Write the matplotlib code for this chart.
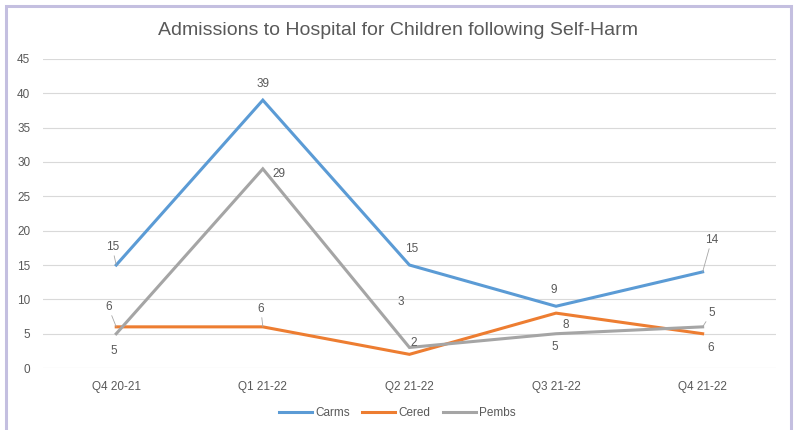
import matplotlib
matplotlib.use('Agg')
import matplotlib.pyplot as plt
from matplotlib.patches import Rectangle

plt.rcParams['font.family'] = ['Liberation Sans', 'DejaVu Sans']

quarters = ['Q4 20-21', 'Q1 21-22', 'Q2 21-22', 'Q3 21-22', 'Q4 21-22']
carms = [15, 39, 15, 9, 14]
cered = [6, 6, 2, 8, 5]
pembs = [5, 29, 3, 5, 6]

# data label text as shown on the chart (some labels swapped in the original)
carms_lbl = ['15', '39', '15', '9', '14']
cered_lbl = ['6', '6', '2', '8', '6']
pembs_lbl = ['5', '29', '3', '5', '5']

# label offsets in pixels and whether a leader line is drawn
carms_off = [(-4, 18, True), (0, 16, False), (2, 16, False), (-2, 16, False), (9, 32, True)]
cered_off = [(-8, 20, True), (-2, 18, True), (4, 11, False), (10, -12, False), (8, -14, False)]
pembs_off = [(-2, -17, False), (16, -5, False), (-9, 45, False), (-1, -13, False), (9, 14, True)]

txt = '#595959'
grid = '#D9D9D9'

fig = plt.figure(figsize=(7.95, 4.30), dpi=100)
ax = fig.add_axes([0.054, 0.144, 0.922, 0.719])

x = range(len(quarters))
series = [('Carms', carms, carms_lbl, carms_off, '#5B9BD5'),
          ('Cered', cered, cered_lbl, cered_off, '#ED7D31'),
          ('Pembs', pembs, pembs_lbl, pembs_off, '#A5A5A5')]

for name, vals, lbls, offs, col in series:
    ax.plot(x, vals, color=col, lw=2.2, label=name, solid_joinstyle='miter')

for name, vals, lbls, offs, col in series:
    for i, v in enumerate(vals):
        dx, dy, lead = offs[i]
        ap = dict(arrowstyle='-', color='#A6A6A6', lw=0.6, shrinkA=0, shrinkB=0) if lead else None
        ax.annotate(lbls[i], (i, v), xytext=(dx, dy), textcoords='offset pixels',
                    ha='center', va='center', fontsize=8.5, color=txt, arrowprops=ap)

ax.set_xlim(-0.5, 4.5)
ax.set_ylim(0, 45)
ax.set_yticks(range(0, 50, 5))
ax.set_xticks(list(x))
ax.set_xticklabels(quarters)
ax.yaxis.grid(True, color=grid, lw=0.8)
ax.set_axisbelow(True)
for s in ax.spines.values():
    s.set_visible(False)
ax.tick_params(length=0, labelsize=8.5, colors=txt)
ax.tick_params(axis='x', pad=9)
ax.tick_params(axis='y', pad=9)

fig.text(0.5, 0.93, 'Admissions to Hospital for Children following Self-Harm',
         ha='center', va='center', fontsize=14, color=txt)

fig.legend(loc='center', bbox_to_anchor=(0.5, 0.04), ncol=3, frameon=False,
           fontsize=8.5, handlelength=2.8, handletextpad=0.3, columnspacing=1.0,
           labelcolor=txt)

fig.patches.append(Rectangle((6 / 795, -0.05), 785 / 795, 1.05 - 6 / 430,
                             transform=fig.transFigure, fill=False,
                             edgecolor='#C4BFE0', lw=2.2))

fig.savefig('out.png', dpi=100)
